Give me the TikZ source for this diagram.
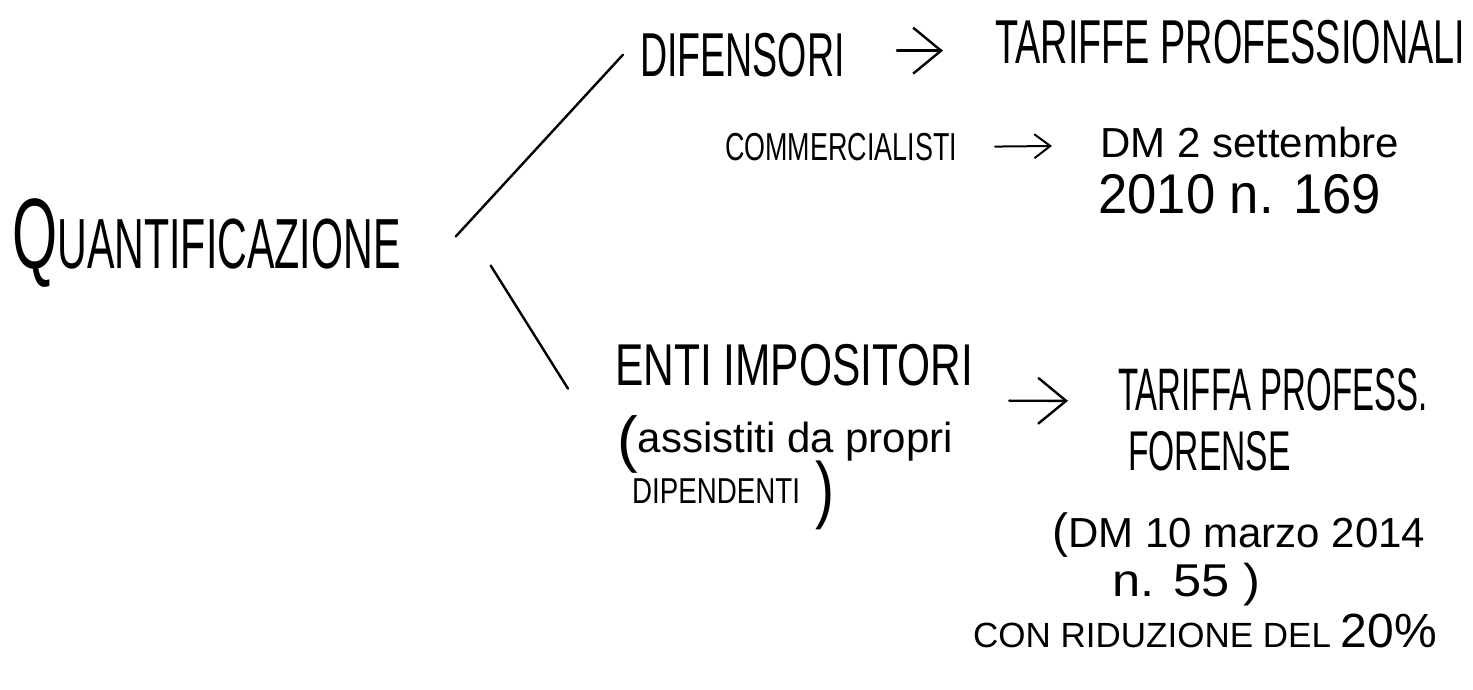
\documentclass[tikz,border=0pt]{standalone}
\usepackage{fontspec}
\setmainfont{Liberation Sans}
\usepackage{graphicx}
\usetikzlibrary{arrows.meta}
\tikzset{hand/.style={inner sep=0pt,anchor=base west},branch/.style={line width=2.4pt,line cap=round},arrow/.style={-{Straight Barb[length=28pt,width=46pt]},line width=2.4pt,line cap=round},smallarrow/.style={-{Straight Barb[length=16pt,width=24pt]},line width=2pt,line cap=round}}
\newcommand{\hw}[3]{\scalebox{#2}[1]{\fontsize{#1}{#1}\selectfont #3}}
\newcommand{\fs}[1]{\fontsize{#1}{#1}\selectfont}

\begin{document}
\begin{tikzpicture}[x=1pt,y=-1pt]
\useasboundingbox (0,0) rectangle (1473,689);
\node[hand] (quant) at (12,268) {\hw{71}{.58}{{\fs{100}Q}UANTIFICAZIONE}};
\node[hand] (difensori) at (640,76) {\hw{62}{.606}{DIFENSORI}};
\node[hand] (tariffe) at (995,63) {\hw{62}{.61}{TARIFFE PROFESSIONALI}};
\node[hand] (commercialisti) at (725,160) {\hw{39}{.69}{COMMERCIALISTI}};
\node[hand] (dm) at (1100,157) {\hw{42}{1}{DM 2 settembre}};
\node[hand] (anno) at (1098,213) {\hw{56}{.94}{2010 n. 169}};
\node[hand] (enti) at (615,385) {\hw{59}{.72}{ENTI IMPOSITORI}};
\node[hand] (assistiti) at (617,452) {\hw{42}{1}{\raisebox{-8pt}{\fs{62}(}assistiti da propri}};
\node[hand] (dipendenti) at (632,503) {\hw{36}{.77}{DIPENDENTI\hspace{20pt}\raisebox{-11pt}{\fs{74})}}};
\node[hand] (tariffa) at (1118,410) {\hw{60}{.55}{TARIFFA PROFESS.}};
\node[hand] (forense) at (1128,470) {\hw{56}{.6}{FORENSE}};
\node[hand] (dmforense) at (1052,547) {\hw{42}{1}{{\fs{48}(}DM 10 marzo 2014}};
\node[hand] (numero) at (1112,596) {\hw{46}{1.1}{n. 55 )}};
\node[hand] (riduzione) at (973,647) {\hw{35}{1}{CON RIDUZIONE DEL {\fs{48}20\%}}};
% rami
\draw[branch] ([xshift=55pt,yshift=6pt]quant.east) -- ([xshift=-17pt]difensori.west);
\draw[branch] ([xshift=90pt,yshift=-23pt]quant.east) -- ([xshift=-47pt,yshift=-24pt]enti.west);
% frecce
\draw[arrow] ([xshift=52pt,yshift=4pt]difensori.east) -- ([xshift=-52pt,yshift=-9pt]tariffe.west);
\draw[smallarrow] ([xshift=38pt]commercialisti.east) -- ([xshift=-48pt,yshift=-4pt]dm.west);
\draw[arrow] ([xshift=36pt,yshift=-36pt]enti.east) -- ([xshift=-50pt,yshift=-11.5pt]tariffa.west);
\end{tikzpicture}
\end{document}
